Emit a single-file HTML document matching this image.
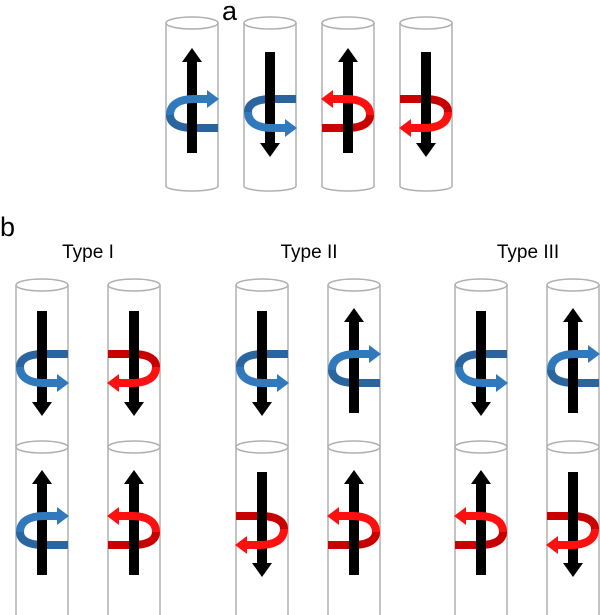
<!DOCTYPE html>
<html><head><meta charset="utf-8"><style>html,body{margin:0;padding:0;background:#fff}svg{display:block}</style></head>
<body>
<svg width="600" height="615" viewBox="0 0 600 615" xmlns="http://www.w3.org/2000/svg">
<defs>
  <g id="up"><polygon points="0,0 10,14 5,14 5,105 -5,105 -5,14 -10,14" fill="#000"/></g>
  <g id="dn"><polygon points="0,105 10,91 5,91 5,0 -5,0 -5,91 -10,91" fill="#000"/></g>
  <g id="bu_back"><path d="M26 15 L2 15 C-16 15 -22 9 -22 2" fill="none" stroke="#2a65a0" stroke-width="8"/></g>
  <g id="bu_front"><path d="M-22 2 C-22 -9 -12 -14 2 -14 L16 -14" fill="none" stroke="#3079bd" stroke-width="8"/><polygon points="15,-23 27,-14 15,-5" fill="#3079bd"/></g>
  <g id="bd_back"><path d="M26 -14 L2 -14 C-16 -14 -22 -8 -22 -1" fill="none" stroke="#2a65a0" stroke-width="8"/></g>
  <g id="bd_front"><path d="M-22 -1 C-22 10 -12 15 2 15 L16 15" fill="none" stroke="#3079bd" stroke-width="8"/><polygon points="15,6 27,15 15,24" fill="#3079bd"/></g>
  <g id="ru_back"><path d="M-26 15 L-2 15 C16 15 22 9 22 2" fill="none" stroke="#c80000" stroke-width="8"/></g>
  <g id="ru_front"><path d="M22 2 C22 -9 12 -14 -2 -14 L-16 -14" fill="none" stroke="#ff1010" stroke-width="8"/><polygon points="-15,-23 -27,-14 -15,-5" fill="#ff1010"/></g>
  <g id="rd_back"><path d="M-26 -14 L-2 -14 C16 -14 22 -8 22 -1" fill="none" stroke="#c80000" stroke-width="8"/></g>
  <g id="rd_front"><path d="M22 -1 C22 10 12 15 -2 15 L-16 15" fill="none" stroke="#ff1010" stroke-width="8"/><polygon points="-15,6 -27,15 -15,24" fill="#ff1010"/></g>
  <g id="cylb"><path d="M-26 285 L-26 620 M26 285 L26 620"/><ellipse cx="0" cy="285" rx="26" ry="6"/><ellipse cx="0" cy="447" rx="26" ry="6" fill="#fff"/></g>
</defs>
<g font-family="Liberation Sans, sans-serif" fill="#000">
  <text x="222" y="20" font-size="27">a</text>
  <text x="0" y="236" font-size="27">b</text>
  <text x="88" y="258" font-size="19" text-anchor="middle">Type I</text>
  <text x="309" y="258" font-size="19" text-anchor="middle">Type II</text>
  <text x="528" y="258" font-size="19" text-anchor="middle">Type III</text>
</g>
<g fill="none" stroke="#b0b0b0" stroke-width="1.5">
  <g transform="translate(192,0)"><path d="M-26 23 L-26 186 A26 5 0 0 0 26 186 L26 23"/><ellipse cx="0" cy="23" rx="26" ry="6"/></g>
  <g transform="translate(270,0)"><path d="M-26 23 L-26 186 A26 5 0 0 0 26 186 L26 23"/><ellipse cx="0" cy="23" rx="26" ry="6"/></g>
  <g transform="translate(348,0)"><path d="M-26 23 L-26 186 A26 5 0 0 0 26 186 L26 23"/><ellipse cx="0" cy="23" rx="26" ry="6"/></g>
  <g transform="translate(426,0)"><path d="M-26 23 L-26 186 A26 5 0 0 0 26 186 L26 23"/><ellipse cx="0" cy="23" rx="26" ry="6"/></g>
</g>
<g fill="none" stroke="#b0b0b0" stroke-width="1.5">
  <use href="#cylb" x="42"/><use href="#cylb" x="134"/><use href="#cylb" x="262"/><use href="#cylb" x="354"/><use href="#cylb" x="481"/><use href="#cylb" x="573"/>
</g>

<use href="#bu_back" transform="translate(192,113)"/><use href="#up" transform="translate(192,48)"/><use href="#bu_front" transform="translate(192,113)"/>
<use href="#bd_back" transform="translate(270,113)"/><use href="#dn" transform="translate(270,52)"/><use href="#bd_front" transform="translate(270,113)"/>
<use href="#ru_back" transform="translate(348,113)"/><use href="#up" transform="translate(348,48)"/><use href="#ru_front" transform="translate(348,113)"/>
<use href="#rd_back" transform="translate(426,113)"/><use href="#dn" transform="translate(426,52)"/><use href="#rd_front" transform="translate(426,113)"/>

<use href="#bd_back" transform="translate(42,368)"/><use href="#dn" transform="translate(42,311)"/><use href="#bd_front" transform="translate(42,368)"/>
<use href="#rd_back" transform="translate(134,368)"/><use href="#dn" transform="translate(134,311)"/><use href="#rd_front" transform="translate(134,368)"/>
<use href="#bu_back" transform="translate(42,530)"/><use href="#up" transform="translate(42,470)"/><use href="#bu_front" transform="translate(42,530)"/>
<use href="#ru_back" transform="translate(134,530)"/><use href="#up" transform="translate(134,470)"/><use href="#ru_front" transform="translate(134,530)"/>

<use href="#bd_back" transform="translate(262,368)"/><use href="#dn" transform="translate(262,311)"/><use href="#bd_front" transform="translate(262,368)"/>
<use href="#bu_back" transform="translate(354,368)"/><use href="#up" transform="translate(354,308)"/><use href="#bu_front" transform="translate(354,368)"/>
<use href="#rd_back" transform="translate(262,530)"/><use href="#dn" transform="translate(262,472)"/><use href="#rd_front" transform="translate(262,530)"/>
<use href="#ru_back" transform="translate(354,530)"/><use href="#up" transform="translate(354,470)"/><use href="#ru_front" transform="translate(354,530)"/>

<use href="#bd_back" transform="translate(481,368)"/><use href="#dn" transform="translate(481,311)"/><use href="#bd_front" transform="translate(481,368)"/>
<use href="#bu_back" transform="translate(573,368)"/><use href="#up" transform="translate(573,308)"/><use href="#bu_front" transform="translate(573,368)"/>
<use href="#ru_back" transform="translate(481,530)"/><use href="#up" transform="translate(481,470)"/><use href="#ru_front" transform="translate(481,530)"/>
<use href="#rd_back" transform="translate(573,530)"/><use href="#dn" transform="translate(573,472)"/><use href="#rd_front" transform="translate(573,530)"/>
</svg>
</body></html>
